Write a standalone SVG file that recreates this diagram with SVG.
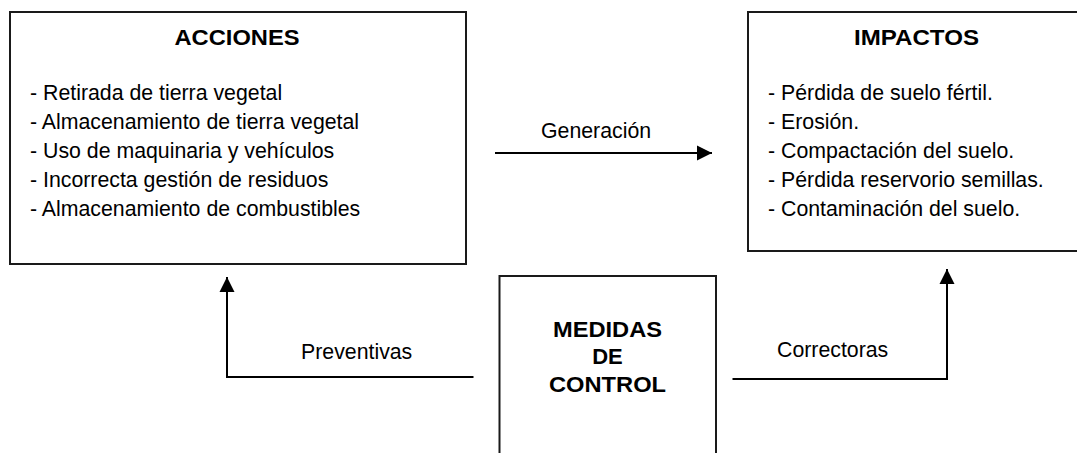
<svg xmlns="http://www.w3.org/2000/svg" width="1077" height="453" viewBox="0 0 1077 453">
<style>
.box{fill:#fff;stroke:#1a1a1a;stroke-width:2}
.t{font-family:"Liberation Sans",Arial,sans-serif;font-size:21.3px;fill:#000}
.b{font-family:"Liberation Sans",Arial,sans-serif;font-size:22px;font-weight:bold;fill:#000;text-anchor:middle}
.c{fill:none;stroke:#000;stroke-width:2}
</style>
<defs>
<marker id="ah" markerUnits="userSpaceOnUse" markerWidth="16" markerHeight="16" viewBox="0 0 16 15" refX="15" refY="7.5" orient="auto">
<path d="M0,0 L15,7.5 L0,15 Z" fill="#000"/>
</marker>
</defs>
<rect width="1077" height="453" fill="#fff"/>
<g id="acciones">
<rect class="box" x="10" y="12" width="456" height="252"/>
<text class="b" x="237" y="45" textLength="125" lengthAdjust="spacingAndGlyphs">ACCIONES</text>
<text class="t" x="30" y="100">- Retirada de tierra vegetal</text>
<text class="t" x="30" y="129">- Almacenamiento de tierra vegetal</text>
<text class="t" x="30" y="158">- Uso de maquinaria y vehículos</text>
<text class="t" x="30" y="187">- Incorrecta gestión de residuos</text>
<text class="t" x="30" y="216">- Almacenamiento de combustibles</text>
</g>
<g id="impactos">
<rect class="box" x="748" y="12" width="340" height="239"/>
<text class="b" x="916.5" y="45" textLength="125" lengthAdjust="spacingAndGlyphs">IMPACTOS</text>
<text class="t" x="768" y="100">- Pérdida de suelo fértil.</text>
<text class="t" x="768" y="129">- Erosión.</text>
<text class="t" x="768" y="158">- Compactación del suelo.</text>
<text class="t" x="768" y="187">- Pérdida reservorio semillas.</text>
<text class="t" x="768" y="216">- Contaminación del suelo.</text>
</g>
<g id="medidas">
<rect class="box" x="499.5" y="276" width="216.5" height="200"/>
<text class="b" x="607.5" y="337" textLength="109" lengthAdjust="spacingAndGlyphs">MEDIDAS</text>
<text class="b" x="607.5" y="364">DE</text>
<text class="b" x="607.5" y="392" textLength="117" lengthAdjust="spacingAndGlyphs">CONTROL</text>
</g>
<g id="connectors">
<path class="c" d="M495,153 H712" marker-end="url(#ah)"/>
<text class="t" x="541" y="138">Generación</text>
<path class="c" d="M473.5,377 H227 V277" marker-end="url(#ah)"/>
<text class="t" x="301" y="359">Preventivas</text>
<path class="c" d="M732.5,379 H947 V269" marker-end="url(#ah)"/>
<text class="t" x="777" y="357">Correctoras</text>
</g>
</svg>
